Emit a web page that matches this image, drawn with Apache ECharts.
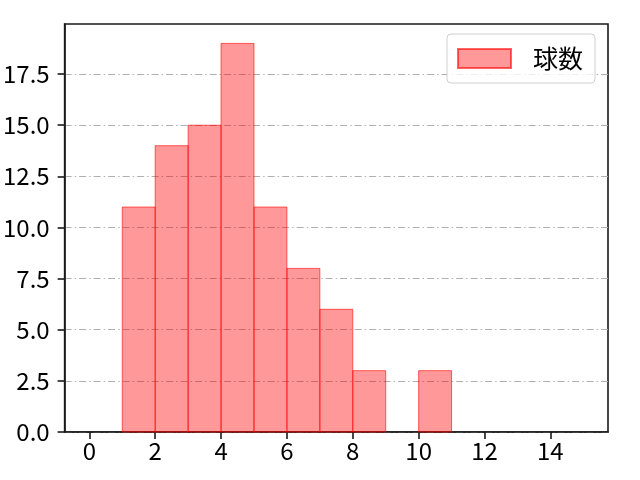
<!DOCTYPE html>
<html><head><meta charset="utf-8">
<script src="https://cdn.jsdelivr.net/npm/echarts@6/dist/echarts.min.js"></script>
<style>html,body{margin:0;padding:0;background:#fff}#c{width:640px;height:480px}</style>
</head><body><div id="c"></div>
<script>
const binStarts = [1, 2, 3, 4, 5, 6, 7, 8, 9, 10];
const binEnds   = [2, 3, 4, 5, 6, 7, 8, 9, 10, 11];
const counts    = [11, 14, 15, 19, 11, 8, 6, 3, 0, 3];
const seriesName = '球数';
const xTicks = [0, 2, 4, 6, 8, 10, 12, 14];
const yTicks = [0, 2.5, 5, 7.5, 10, 12.5, 15, 17.5];

const data = binStarts.map((s, i) => [s, binEnds[i], counts[i]]);
const FONT = 'Noto Sans CJK JP';

const chart = echarts.init(document.getElementById('c'), null, {renderer: 'canvas'});
chart.setOption({
  animation: false,
  backgroundColor: '#fff',
  grid: {left: 64, right: 32, top: 24, bottom: 48, show: true, borderColor: '#1a1a1a', borderWidth: 1.6, backgroundColor: 'transparent'},
  legend: {
    right: 45, top: 34,
    data: [{name: seriesName, icon: 'rect'}],
    itemWidth: 53, itemHeight: 19,
    padding: [12, 12, 12, 10],
    borderColor: '#d0d0d0', borderWidth: 1, borderRadius: 4,
    backgroundColor: 'rgba(255,255,255,0.8)',
    textStyle: {fontFamily: FONT, fontSize: 25, color: '#000', padding: [0, 0, 0, 17]}
  },
  xAxis: {
    type: 'value', min: -0.75, max: 15.75,
    splitLine: {show: false},
    axisLine: {show: true, onZero: false, lineStyle: {color: '#1a1a1a', width: 1.6}},
    axisTick: {show: true, length: 7, customValues: xTicks, lineStyle: {color: '#1a1a1a', width: 1.6}},
    axisLabel: {fontFamily: FONT, fontSize: 24, color: '#000', margin: 7,
      customValues: xTicks, formatter: v => String(v)}
  },
  yAxis: {
    type: 'value', min: 0, max: 19.95,
    splitLine: {show: true, lineStyle: {color: '#b0b0b0', width: 1, type: [7, 3, 1.5, 3]}},
    axisLine: {show: true, onZero: false, lineStyle: {color: '#1a1a1a', width: 1.6}},
    axisTick: {show: true, length: 7, customValues: yTicks, lineStyle: {color: '#1a1a1a', width: 1.6}},
    axisLabel: {fontFamily: FONT, fontSize: 24, color: '#000', margin: 15,
      customValues: yTicks, formatter: v => v.toFixed(1)}
  },
  series: [{
    name: seriesName,
    type: 'custom',
    itemStyle: {color: 'rgba(255,0,0,0.4)', borderColor: 'rgba(255,0,0,0.6)', borderWidth: 1},
    encode: {x: [0, 1], y: 2},
    data: data,
    renderItem: function (params, api) {
      if (api.value(2) === 0) return null;
      const p0 = api.coord([api.value(0), api.value(2)]);
      const p1 = api.coord([api.value(1), 0]);
      return {
        type: 'rect',
        shape: {x: p0[0], y: p0[1], width: p1[0] - p0[0], height: p1[1] - p0[1]},
        style: {fill: 'rgba(255,0,0,0.4)', stroke: 'rgba(255,0,0,0.6)', lineWidth: 1}
      };
    }
  }]
});
</script></body></html>
